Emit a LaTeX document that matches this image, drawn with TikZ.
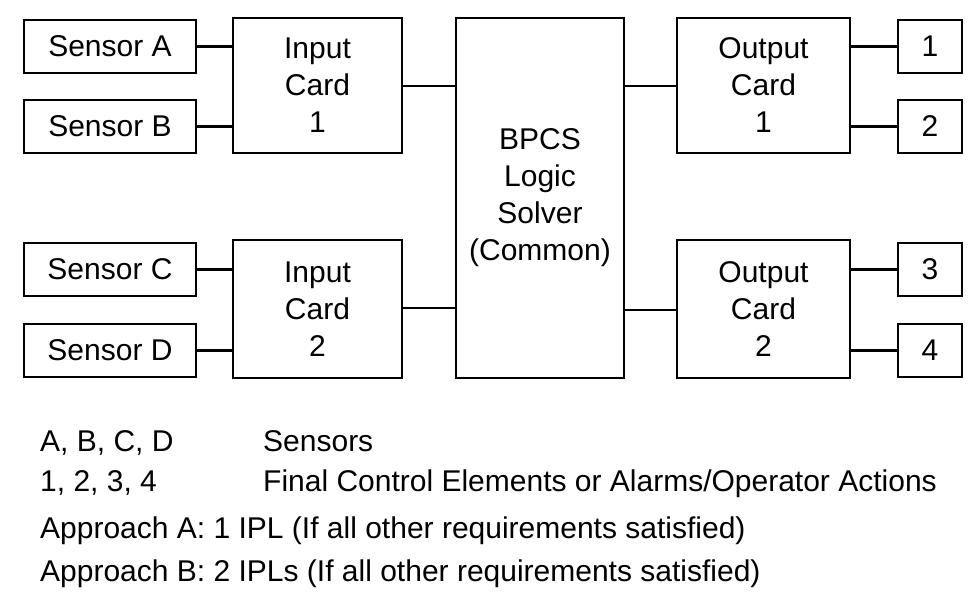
\documentclass[tikz,border=0pt]{standalone}
\usepackage{fontspec}
\setmainfont{Liberation Sans}
\begin{document}
\begin{tikzpicture}[x=1pt,y=-1pt,
  bx/.style={draw,line width=2.6pt,align=center,font=\fontsize{30}{37}\selectfont,inner sep=0pt},
  ln/.style={line width=2.4pt},
  tx/.style={anchor=base west,font=\fontsize{30}{36}\selectfont,inner sep=0pt}]
\useasboundingbox (0,0) rectangle (970,594);
\newcommand{\bxat}[6]{\node[bx,minimum width=#4-#2,minimum height=#5-#3] (#1) at ({(#2+#4)/2},{(#3+#5)/2}) {#6};}
\bxat{sa}{24}{20}{196}{73}{Sensor A}
\bxat{sb}{24}{100}{196}{153}{Sensor B}
\bxat{sc}{24}{243}{196}{296}{Sensor C}
\bxat{sd}{24}{324}{196}{377}{Sensor D}
\bxat{ic1}{233}{18}{402}{153}{Input\\Card\\1}
\bxat{ic2}{233}{240}{402}{378}{Input\\Card\\2}
\bxat{bp}{456}{18}{624}{378}{BPCS\\Logic\\Solver\\(Common)}
\bxat{oc1}{677}{18}{850}{153}{Output\\Card\\1}
\bxat{oc2}{677}{240}{850}{378}{Output\\Card\\2}
\bxat{f1}{898}{20}{962}{73}{1}
\bxat{f2}{898}{100}{962}{153}{2}
\bxat{f3}{898}{243}{962}{296}{3}
\bxat{f4}{898}{324}{962}{377}{4}
\draw[ln] (sa.east) -- (sa.east -| ic1.west);
\draw[ln] (sb.east) -- (sb.east -| ic1.west);
\draw[ln] (sc.east) -- (sc.east -| ic2.west);
\draw[ln] (sd.east) -- (sd.east -| ic2.west);
\draw[ln] (ic1.east |- 0,86) -- (bp.west |- 0,86);
\draw[ln] (ic2.east |- 0,308) -- (bp.west |- 0,308);
\draw[ln] (bp.east |- 0,86) -- (oc1.west |- 0,86);
\draw[ln] (bp.east |- 0,310) -- (oc2.west |- 0,310);
\draw[ln] (f1.west) -- (f1.west -| oc1.east);
\draw[ln] (f2.west) -- (f2.west -| oc1.east);
\draw[ln] (f3.west) -- (f3.west -| oc2.east);
\draw[ln] (f4.west) -- (f4.west -| oc2.east);
\node[tx] (l1) at (40,451) {A, B, C, D};
\node[tx] (l2) at (263,451) {Sensors};
\node[tx] (l3) at (40,491) {1, 2, 3, 4};
\node[tx] (l4) at (263,491) {Final Control Elements or Alarms/Operator Actions};
\node[tx] (l5) at (40,538) {Approach A: 1 IPL (If all other requirements satisfied)};
\node[tx] (l6) at (40,581) {Approach B: 2 IPLs (If all other requirements satisfied)};
\end{tikzpicture}
\end{document}
